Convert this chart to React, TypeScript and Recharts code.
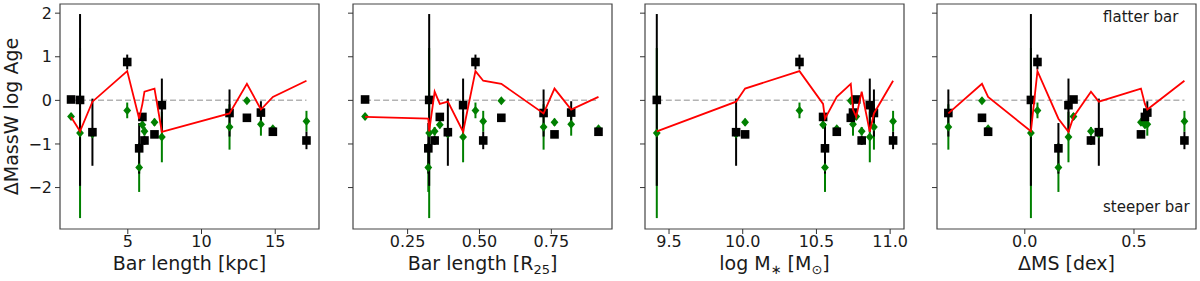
import React from "react";
import {
  ComposedChart,
  Scatter,
  Line,
  XAxis,
  YAxis,
  ErrorBar,
  ReferenceArea,
  Label,
} from "recharts";

// one entry per galaxy, same order in every array
const barAge = [0.02, 0.01, -0.73, 0.88, -1.1, -0.38, -0.92, -0.78, -0.11, -0.29, -0.4, -0.28, -0.72, -0.92];
const barAgeErr = [0.07, 1.97, 0.77, 0.17, 0.58, 0.06, 0.1, 0.06, 0.61, 0.54, 0.06, 0.26, 0.05, 0.2];
const diskAge = [-0.37, -0.75, -0.77, -0.23, -1.54, -0.56, -0.71, -0.5, -0.84, -0.61, -0.01, -0.55, -0.65, -0.48];
const diskAgeErr = [0.08, 1.95, 0.06, 0.18, 0.56, 0.08, 0.1, 0.08, 0.58, 0.52, 0.06, 0.26, 0.05, 0.24];
const modelAge = [-0.38, -0.71, -0.03, 0.67, -0.42, -0.08, 0.2, 0.27, -0.72, -0.3, 0.38, -0.21, 0.08, 0.45];

const barKpc = [1.15, 1.76, 2.6, 4.96, 5.77, 5.99, 6.13, 6.81, 7.31, 11.9, 13.08, 14.03, 14.84, 17.12];
const barR25 = [0.102, 0.325, 0.39, 0.486, 0.322, 0.362, 0.344, 0.761, 0.443, 0.723, 0.576, 0.819, 0.914, 0.513];
const logMass = [10.77, 9.417, 9.955, 10.385, 10.558, 10.545, 10.807, 10.016, 10.862, 10.89, 10.733, 10.748, 10.638, 11.02];
const deltaMS = [0.223, 0.028, 0.339, 0.058, 0.154, 0.55, 0.303, 0.532, 0.2, -0.35, -0.196, 0.561, -0.168, 0.731];

const yTicks = [-2, -1, 0, 1, 2];
const kpcTicks = [5, 10, 15];
const r25Ticks = [0.25, 0.5, 0.75];
const massTicks = [9.5, 10, 10.5, 11];
const dmsTicks = [0, 0.5];

const FONT = "DejaVu Sans";
const INK = "#1a1a1a";
const Y_DOMAIN: [number, number] = [-2.95, 2.21];
const PLOT_W = 259;
const PAD_L = 60;
const PAD_R = 6;

const minus = (v: number, digits: number) => {
  const s = Math.abs(v).toFixed(digits);
  return v < 0 ? "\u2212" + s : s;
};

const Square = (p: any) => (
  <rect x={p.cx - 4.3} y={p.cy - 4.3} width={8.6} height={8.6} fill="#000" />
);
const Diamond = (p: any) => (
  <path
    d={`M${p.cx},${p.cy - 4.5}L${p.cx + 3.9},${p.cy}L${p.cx},${p.cy + 4.5}L${p.cx - 3.9},${p.cy}Z`}
    fill="#008000"
  />
);
const Nothing = () => <g />;

function Panel({ left, xs, domain, ticks, digits, title, showY }: any) {
  const black = xs.map((x: number, i: number) => ({ x, y: barAge[i], err: barAgeErr[i] }));
  const green = xs.map((x: number, i: number) => ({ x, y: diskAge[i], err: diskAgeErr[i] }));
  const red = xs
    .map((x: number, i: number) => ({ x, y: modelAge[i] }))
    .sort((a: any, b: any) => a.x - b.x);
  const zero = [
    { x: red[0].x, y: 0 },
    { x: red[red.length - 1].x, y: 0 },
  ];

  return (
    <div style={{ position: "absolute", left: left - PAD_L, top: 0 }}>
      <ComposedChart
        width={PAD_L + PLOT_W + PAD_R}
        height={281}
        margin={{ top: 4, right: PAD_R, bottom: 0, left: 0 }}
      >
        <XAxis
          type="number"
          dataKey="x"
          domain={domain}
          allowDataOverflow
          ticks={ticks}
          interval={0}
          tickFormatter={(v: number) => minus(v, digits)}
          tick={{ fontSize: 16, fill: INK, fontFamily: FONT }}
          tickSize={5}
          tickMargin={2}
          tickLine={{ stroke: "#333" }}
          axisLine={false}
          height={52}
        >
          <Label
            content={({ viewBox }: any) => (
              <text
                x={viewBox.x + viewBox.width / 2}
                y={270}
                textAnchor="middle"
                fontSize={19}
                fontFamily={FONT}
                fill={INK}
              >
                {title}
              </text>
            )}
          />
        </XAxis>
        <YAxis
          type="number"
          domain={Y_DOMAIN}
          allowDataOverflow
          ticks={yTicks}
          interval={0}
          tickFormatter={(v: number) => (showY ? minus(v, 0) : "")}
          tick={{ fontSize: 16, fill: INK, fontFamily: FONT }}
          tickSize={5}
          tickMargin={3}
          tickLine={{ stroke: "#333" }}
          axisLine={false}
          width={PAD_L}
        >
          {showY && (
            <Label
              content={() => (
                <text
                  x={11}
                  y={116.5}
                  transform="rotate(-90, 11, 116.5)"
                  textAnchor="middle"
                  dominantBaseline="central"
                  fontSize={19}
                  fontFamily={FONT}
                  fill={INK}
                >
                  ΔMassW log Age
                </text>
              )}
            />
          )}
        </YAxis>
        <ReferenceArea
          x1={domain[0]}
          x2={domain[1]}
          y1={Y_DOMAIN[0]}
          y2={Y_DOMAIN[1]}
          fill="none"
          fillOpacity={0}
          stroke="#444"
          strokeWidth={1.2}
        />
        <Line
          data={zero}
          dataKey="y"
          stroke="#b3b3b3"
          strokeWidth={1.5}
          strokeDasharray="6 3"
          dot={false}
          activeDot={false}
          isAnimationActive={false}
        />
        <Scatter data={green} dataKey="y" shape={Nothing} isAnimationActive={false}>
          <ErrorBar dataKey="err" direction="y" width={0} stroke="#008000" strokeWidth={2} />
        </Scatter>
        <Scatter data={black} dataKey="y" shape={Nothing} isAnimationActive={false}>
          <ErrorBar dataKey="err" direction="y" width={0} stroke="#000" strokeWidth={2} />
        </Scatter>
        <Scatter data={green} dataKey="y" shape={Diamond} isAnimationActive={false} />
        <Scatter data={black} dataKey="y" shape={Square} isAnimationActive={false} />
        <Line
          data={red}
          dataKey="y"
          stroke="#ff0000"
          strokeWidth={1.8}
          dot={false}
          activeDot={false}
          isAnimationActive={false}
          zIndex={650}
        />
      </ComposedChart>
    </div>
  );
}

export default function App() {
  return (
    <div
      style={{
        position: "absolute",
        left: 0,
        top: 0,
        width: 1200,
        height: 281,
        background: "#fff",
        overflow: "hidden",
      }}
    >
      <Panel
        left={60}
        xs={barKpc}
        domain={[0.4, 17.97]}
        ticks={kpcTicks}
        digits={0}
        title="Bar length [kpc]"
        showY
      />
      <Panel
        left={352.5}
        xs={barR25}
        domain={[0.06, 0.961]}
        ticks={r25Ticks}
        digits={2}
        title={
          <>
            Bar length [R<tspan fontSize={13} dy={4}>25</tspan>
            <tspan dy={-4}>]</tspan>
          </>
        }
      />
      <Panel
        left={644.5}
        xs={logMass}
        domain={[9.337, 11.094]}
        ticks={massTicks}
        digits={1}
        title={
          <>
            log M<tspan fontSize={13} dy={4}>∗</tspan>
            <tspan dy={-4}> [M</tspan>
            <tspan fontSize={13} dy={4}>⊙</tspan>
            <tspan dy={-4}>]</tspan>
          </>
        }
      />
      <Panel
        left={937}
        xs={deltaMS}
        domain={[-0.402, 0.784]}
        ticks={dmsTicks}
        digits={1}
        title="ΔMS [dex]"
      />
      <svg
        width={1200}
        height={281}
        style={{ position: "absolute", left: 0, top: 0, pointerEvents: "none" }}
      >
        <text x={1103} y={22} fontSize={15} fontFamily={FONT} fill={INK}>
          flatter bar
        </text>
        <text x={1103} y={212} fontSize={15} fontFamily={FONT} fill={INK}>
          steeper bar
        </text>
      </svg>
    </div>
  );
}
